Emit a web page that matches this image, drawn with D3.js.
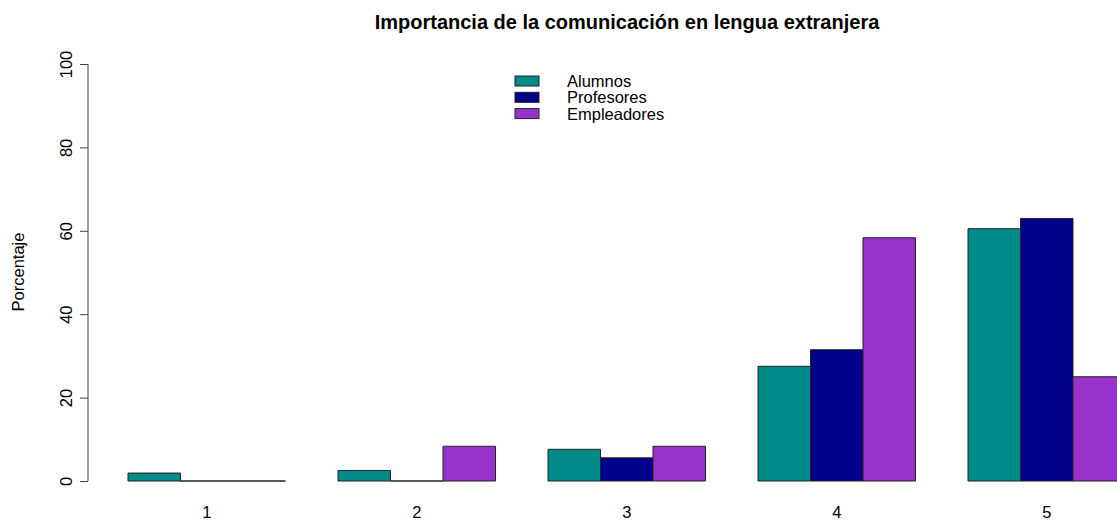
<!DOCTYPE html>
<html><head><meta charset="utf-8">
<script src="https://cdn.jsdelivr.net/npm/d3@7"></script>
<style>body{margin:0;background:#fff}svg{display:block;font-family:"Liberation Sans",Arial,Helvetica,sans-serif}</style>
</head><body><div id="chart"></div>
<script>
const categories = ["1","2","3","4","5"];
const seriesNames = ["Alumnos","Profesores","Empleadores"];
const alumnos = [1.9, 2.5, 7.6, 27.5, 60.5];
const profesores = [0, 0, 5.56, 31.48, 62.96];
const empleadores = [0, 8.33, 8.33, 58.33, 25.0];
const yTicks = [0, 20, 40, 60, 80, 100];
const colors = ["#008B8B", "#00008B", "#9932CC"];
const title = "Importancia de la comunicación en lengua extranjera";
const yLabel = "Porcentaje";

const W = 1117, H = 520;
const FONT = '"Liberation Sans",Arial,Helvetica,sans-serif';
const svg = d3.select("#chart").append("svg").attr("width", W).attr("height", H);
const values = [alumnos, profesores, empleadores];

const x0 = d3.scaleBand().domain(categories).range([101.75, 1151.75]).paddingInner(0.25).paddingOuter(0.125);
const x1 = d3.scaleBand().domain(seriesNames).range([0, x0.bandwidth()]);
const y = d3.scaleLinear().domain([0, 100]).range([481, 64]);

// bars (paths so that zero-height bars still show as a line)
const g = svg.append("g");
categories.forEach((c, i) => {
  seriesNames.forEach((s, j) => {
    const v = values[j][i];
    const xl = x0(c) + x1(s), xr = xl + x1.bandwidth();
    const yt = y(v), yb = y(0);
    g.append("path")
      .attr("d", `M${xl},${yb}L${xl},${yt}L${xr},${yt}L${xr},${yb}Z`)
      .attr("fill", colors[j])
      .attr("stroke", "#222")
      .attr("stroke-width", 1);
  });
});

// y axis
const yAxis = d3.axisLeft(y).tickValues(yTicks).tickSize(8).tickPadding(6).tickFormat(d3.format("d"));
const ya = svg.append("g").attr("transform", "translate(88,0)").call(yAxis)
  .attr("font-family", FONT).attr("font-size", 16.5);
ya.select(".domain").attr("stroke", "#444").attr("d", `M0,${y(0)}V${y(100)}`);
ya.selectAll(".tick line").attr("stroke", "#444");
ya.selectAll(".tick text")
  .attr("fill", "#000")
  .attr("text-anchor", "middle")
  .attr("x", 0).attr("y", 0).attr("dy", "0")
  .attr("transform", "translate(-16,0) rotate(-90)");

// x labels
svg.append("g").selectAll("text").data(categories).join("text")
  .attr("x", d => x0(d) + x0.bandwidth()/2)
  .attr("y", 518)
  .attr("text-anchor", "middle")
  .attr("font-size", 16.5)
  .text(d => d);

// y label
svg.append("text")
  .attr("transform", "translate(24,272) rotate(-90)")
  .attr("text-anchor", "middle")
  .attr("font-size", 16.5)
  .text(yLabel);

// title
svg.append("text")
  .attr("x", 627).attr("y", 29)
  .attr("text-anchor", "middle")
  .attr("font-size", 20).attr("font-weight", "bold")
  .text(title);

// legend
const leg = svg.append("g");
seriesNames.forEach((s, j) => {
  leg.append("rect").attr("x", 515).attr("y", 76 + j*16.3).attr("width", 24).attr("height", 10)
    .attr("fill", colors[j]).attr("stroke", "#222").attr("stroke-width", 1);
  leg.append("text").attr("x", 567).attr("y", 87 + j*16.3).attr("font-size", 16.5).text(s);
});
</script></body></html>
